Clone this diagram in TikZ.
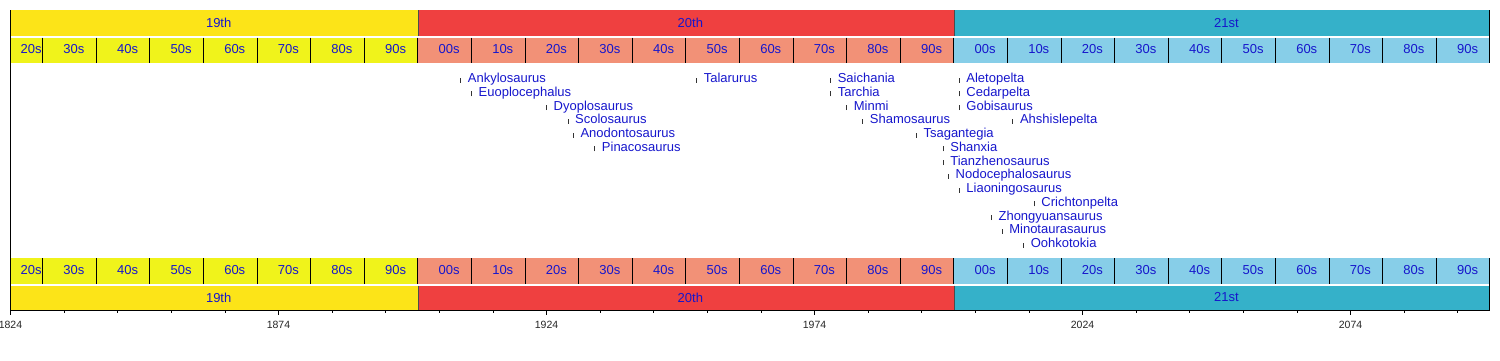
\documentclass[tikz,border=0pt]{standalone}
\usepackage{fontspec}
\setmainfont{Liberation Sans}
\definecolor{cent19}{RGB}{252,228,24}
\definecolor{dec19}{RGB}{240,243,27}
\definecolor{cent20}{RGB}{239,64,64}
\definecolor{dec20}{RGB}{242,145,119}
\definecolor{cent21}{RGB}{53,177,201}
\definecolor{dec21}{RGB}{135,206,232}
\definecolor{labelblue}{RGB}{22,22,204}
\tikzset{
	century/.style={text=labelblue, font=\fontsize{13}{13}\selectfont, inner sep=0pt, xshift=4.5pt},
	decade/.style={century},
	taxon/.style={text=labelblue, font=\fontsize{13}{13}\selectfont, inner sep=0pt, anchor=base west, xshift=7pt},
	taxontick/.style={line width=0.8pt, color=black!80},
	yearlabel/.style={font=\fontsize{10.5}{10.5}\selectfont, text=black!85, inner sep=0pt},
}
\def\genus(#1:#2)#3{%
	\coordinate (t#3) at (#1, {68.75+13.75*#2});
	\draw[taxontick] (t#3) -- ++(0,-5);
	\node[taxon] (#3) at (t#3) {#3};
}

\begin{document}
\begin{tikzpicture}[x=5.36pt, y=-1pt]
	%%%%% START %%%%%
	\path[use as bounding box] (0pt,0pt) rectangle (1500pt,-360pt);
	\begin{scope}[xshift=10.5pt, shift={(-1824,0)}]
		
		\fill[cent19] (1824, 10) rectangle (1900, 35.5);
		\fill[cent20] (1900, 10) rectangle (2000, 35.5);
		\fill[cent21] (2000, 10) rectangle (2100, 35.5);
		\fill[dec19] (1824, 37.5) rectangle (1900, 63);
		\fill[dec20] (1900, 37.5) rectangle (2000, 63);
		\fill[dec21] (2000, 37.5) rectangle (2100, 63);
		
		\fill[dec19] (1824, 258) rectangle (1900, 284);
		\fill[dec20] (1900, 258) rectangle (2000, 284);
		\fill[dec21] (2000, 258) rectangle (2100, 284);
		\fill[cent19] (1824, 285.5) rectangle (1900, 310);
		\fill[cent20] (1900, 285.5) rectangle (2000, 310);
		\fill[cent21] (2000, 285.5) rectangle (2100, 310);
		
		\foreach \d in {1830,1840,...,2090}{
			\draw[line width=1pt] (\d, 37.5) -- (\d, 63);
			\draw[line width=1pt] (\d, 258) -- (\d, 284);
		}
		\draw[line width=0.6pt, color=black!70] (1900, 10) -- (1900, 35.5);
		\draw[line width=0.6pt, color=black!70] (2000, 10) -- (2000, 35.5);
		\draw[line width=0.6pt, color=black!70] (1900, 285.5) -- (1900, 310);
		\draw[line width=0.6pt, color=black!70] (2000, 285.5) -- (2000, 310);
		
		\draw[line width=1pt] (1824, 10) -- (1824, 310) -- (2100, 310) -- (2100, 258);
		\draw[line width=1pt] (2100, 10) -- (2100, 63);
		
		\node[century] (c19a) at (1862, 23) {19th};
		\node[century] (c20a) at (1950, 23) {20th};
		\node[century] (c21a) at (2050, 23) {21st};
		\node[century] (c19b) at (1862, 297.5) {19th};
		\node[century] (c20b) at (1950, 297.5) {20th};
		\node[century] (c21b) at (2050, 297.5) {21st};
		
		\node[decade] (dtop1820) at (1827, 49.5) {20s};
		\node[decade] (dbot1820) at (1827, 269.7) {20s};
		\foreach \d in {1830,1840,...,2090}{
			\pgfmathtruncatemacro{\dd}{mod(\d,100)}
			\node[decade] (dtop\d) at (\d+5, 49.5) {\ifnum\dd<10 0\fi\dd s};
			\node[decade] (dbot\d) at (\d+5, 269.7) {\ifnum\dd<10 0\fi\dd s};
		}
		
		\foreach \yy in {1834,1844,...,2094}
			\draw[line width=0.8pt] (\yy, 310) -- (\yy, 312.5);
		\foreach \yy in {1824,1874,...,2074}{
			\draw[line width=0.8pt] (\yy, 310) -- (\yy, 315);
			\node[yearlabel] (yr\yy) at (\yy, 325.3) {\yy};
		}
		
		\genus(1908:1){Ankylosaurus}
		\genus(1910:2){Euoplocephalus}
		\genus(1924:3){Dyoplosaurus}
		\genus(1928:4){Scolosaurus}
		\genus(1929:5){Anodontosaurus}
		\genus(1933:6){Pinacosaurus}
		\genus(1952:1){Talarurus}
		\genus(1977:1){Saichania}
		\genus(1977:2){Tarchia}
		\genus(1980:3){Minmi}
		\genus(1983:4){Shamosaurus}
		\genus(1993:5){Tsagantegia}
		\genus(1998:6){Shanxia}
		\genus(1998:7){Tianzhenosaurus}
		\genus(1999:8){Nodocephalosaurus}
		\genus(2001:1){Aletopelta}
		\genus(2001:2){Cedarpelta}
		\genus(2001:3){Gobisaurus}
		\genus(2011:4){Ahshislepelta}
		\genus(2001:9){Liaoningosaurus}
		\genus(2015:10){Crichtonpelta}
		\genus(2007:11){Zhongyuansaurus}
		\genus(2009:12){Minotaurasaurus}
		\genus(2013:13){Oohkotokia}
		
	\end{scope}
	%%%%% END %%%%%
\end{tikzpicture}
\end{document}
